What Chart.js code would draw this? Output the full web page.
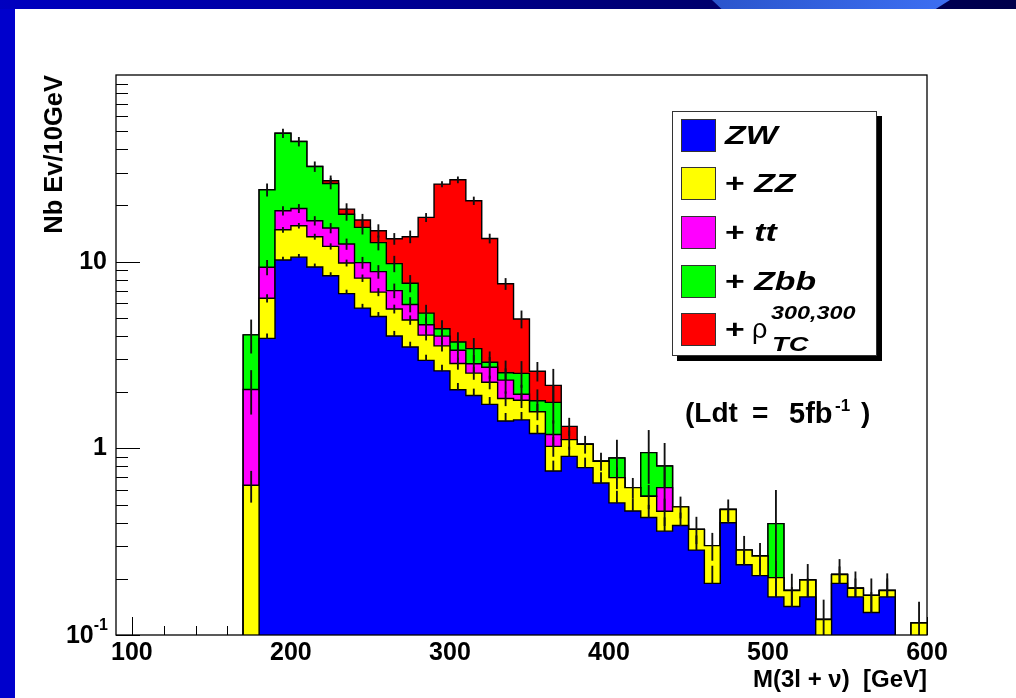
<!DOCTYPE html>
<html>
<head>
<meta charset="utf-8">
<script src="https://cdn.jsdelivr.net/npm/chart.js@4.4.1/dist/chart.umd.min.js"></script>
<style>
  html, body { margin:0; padding:0; width:1016px; height:698px; overflow:hidden; background:#fff; }
  #strip { position:absolute; left:0; top:0; width:15px; height:698px; background:#0000cc; }
  #band { position:absolute; left:0; top:0; width:1016px; height:9px;
          background:linear-gradient(90deg,#0000c0 0%,#0000a0 30%,#000078 60%,#00004a 100%); }
  #band2 { position:absolute; left:712px; top:0; width:238px; height:9px;
           background:linear-gradient(90deg,#2a55cc,#3d6ff2);
           clip-path:polygon(0 0,100% 0,94% 100%,4% 100%); }
  #wrap { position:absolute; left:0; top:0; width:1016px; height:698px; }
  .lbl { font-family:'Liberation Sans', Arial, Helvetica, sans-serif; color:#000; position:absolute; white-space:nowrap; }
  #legend { position:absolute; left:672px; top:111px; width:203px; height:243px; border:1px solid #333;
            background:#fff; box-shadow:5px 5px 0 #000; }
  .sw { position:absolute; left:8px; width:33px; height:31px; border:1px solid #333; }
  .ent { position:absolute; left:52px; height:33px; line-height:33px; font-size:26px; font-weight:bold;
         transform:scaleX(1.3); transform-origin:0 50%; }
  .ent i { font-style:italic; }
  .ann { font-size:28px; font-weight:bold; line-height:34px; top:396px; }
</style>
</head>
<body>
<div id="strip"></div>
<div id="band"></div>
<div id="band2"></div>
<div id="wrap"><canvas id="c" width="1016" height="698"></canvas></div>

<div id="legend">
  <div class="sw" style="top:7px;background:#0000ff"></div>
  <div class="ent lbl" style="top:7px"><i>ZW</i></div>
  <div class="sw" style="top:55px;background:#ffff00"></div>
  <div class="ent lbl" style="top:55px">+ <i>ZZ</i></div>
  <div class="sw" style="top:104px;background:#ff00ff"></div>
  <div class="ent lbl" style="top:104px">+ <i>tt</i></div>
  <div class="sw" style="top:153px;background:#00ff00"></div>
  <div class="ent lbl" style="top:153px">+ <i>Zbb</i></div>
  <div class="sw" style="top:201px;background:#ff0000"></div>
  <div class="ent lbl" style="top:201px">+</div>
  <div class="lbl" style="left:79px;top:201px;height:33px;line-height:33px;font-size:27px">ρ</div>
  <div class="lbl" style="left:98px;top:189px;font-size:18px;font-weight:bold;font-style:italic;line-height:24px;transform:scaleX(1.3);transform-origin:0 50%">300,300</div>
  <div class="lbl" style="left:99px;top:219px;font-size:21px;font-weight:bold;font-style:italic;line-height:26px;transform:scaleX(1.3);transform-origin:0 50%">TC</div>
</div>

<div class="lbl ann" style="left:685px">(Ldt</div>
<div class="lbl ann" style="left:752px">=</div>
<div class="lbl ann" style="left:789px;font-size:29px">5fb</div>
<div class="lbl" style="left:835px;top:396px;font-size:17px;font-weight:bold;line-height:20px">-1</div>
<div class="lbl ann" style="left:861px">)</div>

<script>
// ---------------- data ----------------
const binLow = [90,100,110,120,130,140,150,160,170,180,190,200,210,220,230,240,250,260,270,280,
                290,300,310,320,330,340,350,360,370,380,390,400,410,420,430,440,450,460,470,480,
                490,500,510,520,530,540,550,560,570,580,590];
const binWidth = 10;

const ZW  = [0,0,0,0,0,0,0,0, 0,3.88,10.2,10.57,9.37,8.40,6.74,5.64,5.08,4.00,3.49,2.96,
             2.60,2.06,1.92,1.72,1.40,1.42,1.20,0.756,0.906,0.788,0.652,0.510,0.462,0.426,0.360,0.386,0.285,0.189,0.399,0.238,
             0.208,0.160,0.142,0.160,0,0.189,0.160,0.132,0.160,0,0];
const ZZ  = [0,0,0,0,0,0,0,0, 0.634,2.49,4.62,5.01,4.24,3.67,3.10,2.52,1.79,1.58,1.38,1.08,
             0.94,0.79,0.61,0.54,0.45,0.39,0.37,0.269,0.207,0.263,0.200,0.187,0.154,0.128,0.100,0.100,0.083,0.112,0.071,0.047,
             0.057,0.043,0.031,0.037,0.121,0.022,0.018,0.031,0.013,0,0.116];
const TT  = [0,0,0,0,0,0,0,0, 1.434,2.96,3.91,3.70,2.96,3.07,2.59,1.72,1.97,1.42,1.03,0.55,
             0.45,0.50,0.31,0.46,0.47,0.14,0,0.16,0,0,0,0,0,0,0.156,0,0,0,0,0,
             0,0,0,0,0,0,0,0,0,0,0];
const ZBB = [0,0,0,0,0,0,0,0, 1.987,14.95,30.0,24.71,15.76,11.08,5.52,5.38,3.80,2.76,1.76,0.71,
             0.38,0.36,0.58,0.17,0.22,0.57,0.23,0.577,0,0,0,0.190,0,0.394,0.188,0,0,0,0,0,
             0,0.192,0,0,0,0,0,0,0,0,0];
const RHO = [0,0,0,0,0,0,0,0, 0,0,0,0,0,0.89,1.18,1.45,2.01,3.51,5.95,11.96,
             21.66,23.74,17.79,10.43,5.07,2.41,0.79,0.411,0.198,0,0,0,0,0,0,0,0,0,0,0,
             0,0,0,0,0,0,0,0,0,0,0];

// statistical errors of each cumulative sum (null: no separate bar)
const errZW  = [null,null,null,null,null,null,null,null, null,0.23,0.38,0.38,0.36,0.34,0.31,0.28,0.27,0.24,0.22,0.20,
                0.19,0.17,0.16,0.155,0.14,0.14,0.13,0.10,0.11,0.10,0.09,0.08,0.075,0.07,0.065,0.065,0.055,0.045,0.065,0.05,
                0.047,0.04,0.038,0.04,null,0.043,0.04,0.037,0.04,null,null];
const errZZ  = [null,null,null,null,null,null,null,null, 0.12,0.30,0.46,0.47,0.44,0.415,0.375,0.34,0.31,0.28,0.26,0.24,
                0.225,0.20,0.19,0.18,0.16,0.16,0.15,0.12,0.126,0.11,0.09,0.09,0.075,0.08,0.075,0.063,0.06,0.05,0.06,0.053,
                0.045,0.045,0.039,0.042,0.033,0.043,0.04,0.037,0.04,null,0.034];
const errTT  = [null,null,null,null,null,null,null,null, 0.545,0.83,1.0,0.98,0.89,0.89,0.81,0.68,0.70,0.60,0.525,0.41,
                0.375,0.375,0.31,0.35,0.35,0.23,null,0.22,null,null,null,null,null,null,0.19,null,null,null,null,null,
                null,null,null,null,null,null,null,null,null,null,null];
const errZBB = [null,null,null,null,null,null,null,null, 0.82,1.88,2.59,2.38,1.94,1.70,1.31,1.22,1.10,0.94,0.78,0.55,
                0.46,0.46,0.46,0.40,0.40,0.40,0.26,0.40,null,null,null,0.22,null,0.30,0.26,null,null,null,null,null,
                null,0.20,null,null,null,null,null,null,null,null,null];
const errALL = [null,null,null,null,null,null,null,null, null,null,null,null,null,1.71,1.33,1.24,1.14,0.90,1.0,0.88,
                0.85,1.03,1.0,0.74,0.52,0.52,0.30,0.48,0.14,null,null,null,null,null,null,null,null,null,null,null,
                null,null,null,null,null,null,null,null,null,null,null];

const xTicks = [100,200,300,400,500,600];
const yTicks = [0.1,1,10];
const xMin = 90, xMax = 600, yMin = 0.1, yMax = 100;

// ---------------- build datasets ----------------
const FONT = "'Liberation Sans', Arial, Helvetica, sans-serif";
const FLOOR = 1e-3;
const layers = [
  {vals: ZW,  err: errZW,  color: '#0000ff', upperOnly: true},
  {vals: ZZ,  err: errZZ,  color: '#ffff00'},
  {vals: TT,  err: errTT,  color: '#ff00ff'},
  {vals: ZBB, err: errZBB, color: '#00ff00'},
  {vals: RHO, err: errALL, color: '#ff0000'}
];
const datasets = [];
let run = binLow.map(() => 0);
layers.forEach((L, k) => {
  run = run.map((v, i) => v + L.vals[i]);
  const cum = run.slice();
  const pts = binLow.map((x, i) => ({x: x, y: Math.max(cum[i], FLOOR)}));
  pts.push({x: xMax, y: Math.max(cum[cum.length - 1], FLOOR)});
  datasets.push({
    type: 'line', data: pts, stepped: true, fill: 'start',
    backgroundColor: L.color, borderColor: '#000', borderWidth: 1.4,
    pointRadius: 0, order: 2 * k + 2, borderJoinStyle: 'miter'
  });
  const bars = [];
  binLow.forEach((x, i) => {
    const e = L.err[i];
    if (e === null || e === undefined) return;
    const c = cum[i];
    bars.push({x: x + binWidth / 2, y: [L.upperOnly ? c : Math.max(c - e, FLOOR), c + e]});
  });
  datasets.push({
    type: 'bar', data: bars, backgroundColor: '#111', borderWidth: 0,
    barThickness: 1.2, grouped: false, order: 2 * k + 1
  });
});

// ---------------- frame, ticks, 10^-1 label ----------------
const framePlugin = {
  id: 'frame',
  beforeDatasetsDraw(chart) {
    const {ctx, chartArea: a, scales: {x, y}} = chart;
    ctx.save();
    ctx.strokeStyle = '#000'; ctx.lineWidth = 1;
    ctx.beginPath();
    for (let p = -1; p <= 1; p++) {
      for (let k = 1; k <= 9; k++) {
        const v = k * Math.pow(10, p);
        if (v < yMin || v > yMax) continue;
        const py = Math.round(y.getPixelForValue(v)) + 0.5;
        ctx.moveTo(a.left, py); ctx.lineTo(a.left + (k === 1 ? 24 : 12), py);
      }
    }
    for (let v = 100; v <= xMax; v += 20) {
      const px = Math.round(x.getPixelForValue(v)) + 0.5;
      const len = (v % 100 === 0) ? 18 : 9;
      ctx.moveTo(px, a.bottom); ctx.lineTo(px, a.bottom - len);
    }
    ctx.stroke();
    ctx.restore();
  },
  afterDatasetsDraw(chart) {
    const {ctx, chartArea: a, scales: {y}} = chart;
    ctx.save();
    ctx.strokeStyle = '#000'; ctx.lineWidth = 1.3;
    ctx.strokeRect(a.left, a.top, a.right - a.left, a.bottom - a.top);
    // 10^-1 label
    const py = y.getPixelForValue(0.1);
    ctx.fillStyle = '#000';
    ctx.textBaseline = 'middle';
    ctx.textAlign = 'right';
    ctx.font = 'bold 16px ' + FONT;
    const supW = ctx.measureText('-1').width;
    ctx.fillText('-1', a.left - 8, py - 9);
    ctx.font = 'bold 25px ' + FONT;
    ctx.fillText('10', a.left - 8 - supW, py + 1);
    ctx.restore();
  }
};

new Chart(document.getElementById('c'), {
  type: 'line',
  data: {datasets: datasets},
  plugins: [framePlugin],
  options: {
    responsive: false, animation: false, devicePixelRatio: 1, events: [],
    layout: {padding: {left: 0, right: 89, top: 75, bottom: 0}},
    plugins: {legend: {display: false}, tooltip: {enabled: false}},
    scales: {
      x: {
        type: 'linear', min: xMin, max: xMax, offset: false,
        afterBuildTicks: s => { s.ticks = xTicks.map(v => ({value: v})); },
        afterFit: s => { s.height = 63; },
        grid: {display: false, drawTicks: false}, border: {display: false},
        ticks: {color: '#000', padding: 3, maxRotation: 0, autoSkip: false,
                font: {family: FONT, size: 25, weight: 'bold'}},
        title: {display: true, text: 'M(3l + ν)  [GeV]', align: 'end', color: '#000',
                font: {family: FONT, size: 24, weight: 'bold'}, padding: {top: 0, bottom: 3}}
      },
      y: {
        type: 'logarithmic', min: yMin, max: yMax,
        afterBuildTicks: s => { s.ticks = yTicks.map(v => ({value: v})); },
        afterFit: s => { s.width = 116; },
        grid: {display: false, drawTicks: false}, border: {display: false},
        ticks: {color: '#000', padding: 9, autoSkip: false,
                font: {family: FONT, size: 25, weight: 'bold'},
                callback: v => (v === 0.1 ? '' : String(v))},
        title: {display: true, text: 'Nb Ev/10GeV', align: 'end', color: '#000',
                font: {family: FONT, size: 25.5, weight: 'bold'}, padding: {top: 40, bottom: 0}}
      }
    }
  }
});
</script>
</body>
</html>
